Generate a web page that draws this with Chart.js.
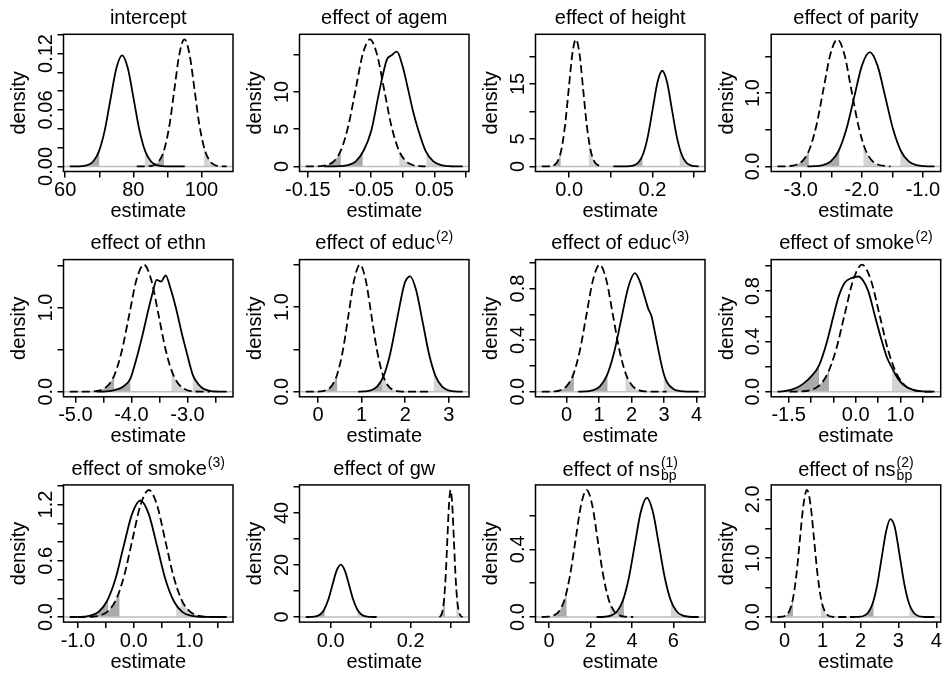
<!DOCTYPE html>
<html><head><meta charset="utf-8">
<script src="https://cdn.jsdelivr.net/npm/chart.js@4/dist/chart.umd.min.js"></script>
<style>
html,body{margin:0;padding:0;background:#fff;}
#wrap{position:relative;width:943px;height:676px;overflow:hidden;background:#fff;}
#wrap canvas{position:absolute;}
.ttl{position:absolute;width:300px;text-align:center;font-family:"Liberation Sans",Arial,Helvetica,sans-serif;font-size:20px;line-height:24px;white-space:nowrap;color:#000;z-index:2;}
.sup{font-size:14px;position:relative;top:-8px;margin-left:1px;}
.stack{display:inline-block;vertical-align:-4px;font-size:14px;line-height:13px;text-align:left;margin-left:1px;}
.stack span{display:block;}
</style></head>
<body><div id="wrap"></div>
<script>
// ---------- panel titles ----------
const panelTitles = ['intercept','effect of agem','effect of height','effect of parity','effect of ethn','effect of educ','effect of educ','effect of smoke','effect of smoke','effect of gw','effect of ns','effect of ns'];
const titleSup = ['','','','','','(2)','(3)','(2)','(3)','','(1)','(2)'];
const titleSub = ['','','','','','','','','','','bp','bp'];
const xAxisTitle = 'estimate';
const yAxisTitle = 'density';

// ---------- density curves [estimate, density] ----------
const interceptSolid = [[61.34,0],[63.1,0.00004],[64.8,0.0003],[66.5,0.0013],[68.2,0.0052],[69.9,0.016],[71.6,0.0383],[73.3,0.0716],[75.0,0.1041],[76.7,0.118],[78.4,0.1041],[80.1,0.0716],[81.8,0.0383],[83.5,0.016],[85.2,0.0052],[86.9,0.0013],[88.6,0.0003],[90.3,0.00004],[95.1,0]];
const interceptDashed = [[81.0,0],[83.2,0.00004],[84.7,0.0003],[86.15,0.0015],[87.6,0.0059],[89.1,0.0183],[90.6,0.0438],[92.05,0.0819],[93.5,0.1191],[95.0,0.135],[96.5,0.1191],[97.95,0.0819],[99.4,0.0438],[100.9,0.0183],[102.4,0.0059],[103.85,0.0015],[105.3,0.0003],[107.41,0]];
const agemSolid = [[-0.124,0],[-0.111,0.005],[-0.099,0.03],[-0.0865,0.17],[-0.0743,0.68],[-0.062,2.1],[-0.0498,4.8],[-0.0375,9.9],[-0.0253,14.3],[-0.018,14.9],[-0.0093,15.4],[-0.0008,13.6],[0.0093,10.0],[0.0165,7.3],[0.0241,5.0],[0.036,2.08],[0.0483,0.68],[0.0605,0.17],[0.0728,0.034],[0.085,0.005],[0.0947,0]];
const agemDashed = [[-0.1533,0],[-0.142,0.005],[-0.1308,0.037],[-0.1195,0.19],[-0.1083,0.75],[-0.097,2.31],[-0.0858,5.54],[-0.0745,10.34],[-0.0633,15.05],[-0.052,17.05],[-0.0408,15.05],[-0.0295,10.34],[-0.0183,5.54],[-0.007,2.31],[0.0043,0.75],[0.0155,0.19],[0.0268,0.037],[0.036,0]];
const heightSolid = [[0.106,0],[0.1325,0.005],[0.1439,0.04],[0.1553,0.19],[0.1667,0.76],[0.1781,2.35],[0.1895,5.65],[0.2009,10.55],[0.2123,15.36],[0.2237,17.4],[0.2351,15.36],[0.2465,10.55],[0.2579,5.65],[0.2693,2.35],[0.2807,0.76],[0.2921,0.19],[0.3035,0.04],[0.3113,0]];
const heightDashed = [[-0.066,0],[-0.0535,0.007],[-0.0448,0.05],[-0.0361,0.26],[-0.0274,1.01],[-0.0187,3.13],[-0.01,7.5],[-0.0013,14.0],[0.0074,20.4],[0.0161,23.1],[0.0248,20.4],[0.0335,14.0],[0.0422,7.5],[0.0509,3.13],[0.0596,1.01],[0.0683,0.26],[0.077,0.05],[0.08,0]];
const paritySolid = [[-2.89,0],[-2.763,0.0034],[-2.635,0.017],[-2.508,0.068],[-2.38,0.21],[-2.253,0.505],[-2.125,0.944],[-1.998,1.373],[-1.87,1.556],[-1.743,1.373],[-1.615,0.944],[-1.488,0.505],[-1.36,0.21],[-1.233,0.068],[-1.105,0.017],[-0.978,0.0034],[-0.812,0]];
const parityDashed = [[-3.38,0],[-3.312,0.0005],[-3.198,0.004],[-3.084,0.019],[-2.97,0.076],[-2.856,0.234],[-2.742,0.562],[-2.628,1.05],[-2.514,1.528],[-2.40,1.731],[-2.286,1.528],[-2.172,1.05],[-2.058,0.562],[-1.944,0.234],[-1.83,0.076],[-1.716,0.019],[-1.602,0.004],[-1.53,0]];
const ethnSolid = [[-4.62,0],[-4.45,0.004],[-4.30,0.02],[-4.15,0.06],[-4.02,0.154],[-3.95,0.30],[-3.868,0.5],[-3.80,0.68],[-3.70,0.97],[-3.62,1.18],[-3.55,1.33],[-3.47,1.31],[-3.39,1.384],[-3.30,1.22],[-3.208,1.0],[-3.10,0.69],[-3.027,0.5],[-2.95,0.3],[-2.906,0.2],[-2.85,0.13],[-2.75,0.05],[-2.60,0.01],[-2.45,0.002],[-2.3,0]];
const ethnDashed = [[-5.1,0],[-4.822,0.0005],[-4.692,0.0033],[-4.561,0.0168],[-4.431,0.066],[-4.30,0.204],[-4.17,0.49],[-4.039,0.916],[-3.909,1.333],[-3.778,1.51],[-3.648,1.333],[-3.517,0.916],[-3.387,0.49],[-3.256,0.204],[-3.126,0.066],[-2.995,0.0168],[-2.865,0.0033],[-2.734,0.0005],[-2.6,0]];
const educ2Solid = [[0.92,0],[1.057,0.003],[1.206,0.015],[1.355,0.06],[1.504,0.184],[1.653,0.443],[1.802,0.827],[1.951,1.21],[2.0,1.30],[2.115,1.363],[2.249,1.2],[2.398,0.827],[2.547,0.443],[2.696,0.184],[2.845,0.06],[2.994,0.015],[3.143,0.003],[3.318,0]];
const educ2Dashed = [[-0.279,0],[-0.082,0.0005],[0.049,0.0033],[0.179,0.0167],[0.31,0.066],[0.44,0.203],[0.571,0.487],[0.701,0.91],[0.832,1.324],[0.962,1.50],[1.093,1.324],[1.223,0.91],[1.354,0.487],[1.484,0.203],[1.615,0.066],[1.745,0.0167],[1.876,0.0033],[2.006,0.0005],[2.54,0]];
const educ3Solid = [[0.36,0],[0.58,0.002],[0.80,0.01],[1.02,0.04],[1.24,0.124],[1.46,0.3],[1.68,0.557],[1.90,0.81],[2.10,0.919],[2.25,0.86],[2.40,0.74],[2.52,0.64],[2.61,0.589],[2.75,0.42],[2.87,0.27],[2.99,0.14],[3.1,0.07],[3.3,0.02],[3.5,0.005],[3.8,0.001],[4.067,0]];
const educ3Dashed = [[-0.761,0],[-0.604,0.0003],[-0.401,0.0022],[-0.198,0.011],[0.005,0.043],[0.208,0.133],[0.411,0.32],[0.614,0.597],[0.817,0.869],[1.02,0.985],[1.223,0.869],[1.426,0.597],[1.629,0.32],[1.832,0.133],[2.035,0.043],[2.238,0.011],[2.441,0.0022],[2.644,0.0003],[3.08,0]];
const smoke2Solid = [[-1.75,0],[-1.6,0.005],[-1.45,0.015],[-1.3,0.035],[-1.15,0.07],[-1.0,0.12],[-0.82,0.21],[-0.65,0.39],[-0.5,0.6],[-0.38,0.76],[-0.25,0.865],[-0.12,0.9],[0.06,0.916],[0.17,0.88],[0.28,0.8],[0.43,0.6],[0.585,0.4],[0.70,0.27],[0.81,0.19],[0.95,0.1],[1.1,0.045],[1.3,0.012],[1.5,0.003],[1.758,0]];
const smoke2Dashed = [[-1.48,0],[-1.225,0.002],[-1.03,0.011],[-0.835,0.044],[-0.64,0.137],[-0.445,0.328],[-0.25,0.613],[-0.055,0.891],[0.14,1.01],[0.335,0.891],[0.53,0.613],[0.725,0.328],[0.92,0.137],[1.115,0.044],[1.31,0.011],[1.505,0.002],[1.7,0]];
const smoke3Solid = [[-1.145,0],[-1.0,0.001],[-0.9,0.004],[-0.78,0.014],[-0.63,0.055],[-0.48,0.168],[-0.33,0.40],[-0.18,0.754],[-0.03,1.097],[0.12,1.243],[0.27,1.097],[0.42,0.754],[0.57,0.40],[0.72,0.168],[0.87,0.055],[1.02,0.014],[1.17,0.003],[1.35,0.0005],[1.667,0]];
const smoke3Dashed = [[-1.0,0],[-0.91,0.0004],[-0.76,0.003],[-0.612,0.015],[-0.465,0.06],[-0.318,0.183],[-0.171,0.44],[-0.024,0.822],[0.123,1.196],[0.27,1.355],[0.417,1.196],[0.564,0.822],[0.711,0.44],[0.858,0.183],[1.005,0.06],[1.152,0.015],[1.3,0.003],[1.45,0]];
const gwSolid = [[-0.0623,0],[-0.0588,0.007],[-0.0483,0.045],[-0.0378,0.22],[-0.0273,0.88],[-0.0168,2.72],[-0.0063,6.53],[0.0042,12.19],[0.0147,17.74],[0.0252,20.1],[0.0357,17.74],[0.0462,12.19],[0.0567,6.53],[0.0672,2.72],[0.0777,0.88],[0.0882,0.22],[0.0987,0.045],[0.1092,0.007],[0.115,0]];
const gwDashed = [[0.2722,0],[0.2754,0.54],[0.2795,2.14],[0.2836,6.6],[0.2877,15.85],[0.2918,29.6],[0.2959,43.07],[0.3,48.8],[0.3041,43.07],[0.3082,29.6],[0.3123,15.85],[0.3164,6.6],[0.3205,2.14],[0.3246,0.54],[0.3287,0.11],[0.3303,0]];
const ns1Solid = [[2.29,0],[2.683,0.0015],[2.974,0.0078],[3.265,0.031],[3.556,0.095],[3.847,0.229],[4.138,0.427],[4.429,0.621],[4.72,0.704],[5.011,0.621],[5.302,0.427],[5.593,0.229],[5.884,0.095],[6.175,0.031],[6.466,0.0078],[6.757,0.0015],[7.227,0]];
const ns1Dashed = [[-0.357,0],[-0.066,0.0017],[0.202,0.0083],[0.47,0.033],[0.738,0.101],[1.006,0.244],[1.274,0.455],[1.542,0.662],[1.81,0.75],[2.078,0.662],[2.346,0.455],[2.614,0.244],[2.882,0.101],[3.15,0.033],[3.418,0.0083],[3.686,0.0017],[4.06,0]];
const ns2Solid = [[1.725,0],[1.836,0.0005],[1.957,0.0037],[2.077,0.018],[2.198,0.073],[2.318,0.225],[2.439,0.54],[2.559,1.01],[2.68,1.47],[2.787,1.666],[2.9,1.54],[2.97,1.3],[3.041,1.01],[3.162,0.54],[3.282,0.225],[3.403,0.073],[3.523,0.018],[3.644,0.0037],[3.764,0.0005],[3.949,0]];
const ns2Dashed = [[-0.188,0],[-0.162,0.0007],[-0.068,0.0048],[0.026,0.024],[0.12,0.095],[0.214,0.292],[0.308,0.701],[0.402,1.31],[0.496,1.906],[0.59,2.16],[0.684,1.906],[0.778,1.31],[0.872,0.701],[0.966,0.292],[1.06,0.095],[1.154,0.024],[1.248,0.0048],[1.342,0.0007],[1.68,0]];

const solidCurves = [interceptSolid, agemSolid, heightSolid, paritySolid, ethnSolid, educ2Solid, educ3Solid, smoke2Solid, smoke3Solid, gwSolid, ns1Solid, ns2Solid];
const dashedCurves = [interceptDashed, agemDashed, heightDashed, parityDashed, ethnDashed, educ2Dashed, educ3Dashed, smoke2Dashed, smoke3Dashed, gwDashed, ns1Dashed, ns2Dashed];

// 2.5% / 97.5% tail cut points
const solidCuts = [[70.0,83.4],[-0.0634,0.0374],[0.176,0.2654],[-2.369,-1.368],[-4.02,-2.906],[1.486,2.654],[1.26,2.99],[-0.82,0.81],[-0.457,0.762],[-0.015,0.067],[3.61,5.89],[2.344,3.29]];
const dashedCuts = [[89.0,100.7],[-0.098,-0.0055],[-0.0207,0.0473],[-2.868,-1.973],[-4.309,-3.285],[0.44,1.463],[0.225,1.815],[-0.6,0.905],[-0.255,0.84],[0.2855,0.3145],[0.84,2.94],[0.22,0.956]];

// ---------- ticks ----------
const xTickValues = [[60,70,80,90,100],[-0.15,-0.10,-0.05,0,0.05,0.10],[0,0.1,0.2,0.3],[-3,-2.5,-2,-1.5,-1],[-5,-4.5,-4,-3.5,-3,-2.5],[0,1,2,3],[0,1,2,3,4],[-1.5,-1,-0.5,0,0.5,1,1.5],[-1,-0.5,0,0.5,1,1.5],[0,0.1,0.2,0.3],[0,2,4,6],[0,1,2,3,4]];
const xTickLabels = [['60','','80','','100'],['-0.15','','-0.05','','0.05',''],['0.0','','0.2',''],['-3.0','','-2.0','','-1.0'],['-5.0','','-4.0','','-3.0',''],['0','1','2','3'],['0','1','2','3','4'],['-1.5','','','0.0','','1.0',''],['-1.0','','0.0','','1.0',''],['0.0','','0.2',''],['0','2','4','6'],['0','1','2','3','4']];
const yTickValues = [[0,0.02,0.04,0.06,0.08,0.10,0.12,0.14],[0,5,10,15],[0,5,10,15,20],[0,0.5,1,1.5],[0,0.5,1,1.5],[0,0.5,1,1.5],[0,0.2,0.4,0.6,0.8,1.0],[0,0.2,0.4,0.6,0.8,1.0],[0,0.2,0.4,0.6,0.8,1.0,1.2,1.4],[0,10,20,30,40,50],[0,0.2,0.4,0.6],[0,0.5,1,1.5,2]];
const yTickLabels = [['0.00','','','0.06','','','0.12',''],['0','5','10',''],['0','5','','15',''],['0.0','','1.0',''],['0.0','','1.0',''],['0.0','','1.0',''],['0.0','','0.4','','0.8',''],['0.0','','0.4','','0.8',''],['0.0','','','0.6','','','1.2',''],['0','','20','','40',''],['0.0','','0.4',''],['0.0','','1.0','','2.0']];

// ---------- layout (pixels) ----------
const BOX_LEFT = [63.5, 299.5, 535.5, 771.2];
const BOX_W = 169.5;
const BOX_TOP = [34.3, 259.6, 484.9];
const BOX_H = 137.2;
const CELL_W = 236, CELL_H = 225;
const DARK = '#aaaaaa', LIGHT = '#d4d4d4', ZERO = '#bebebe';
const FONT_FAMILY = '"Liberation Sans", Arial, Helvetica, sans-serif';

const mctx = document.createElement('canvas').getContext('2d');
mctx.font = '20px ' + FONT_FAMILY;

const decoPlugin = {
  id: 'rdeco',
  beforeDatasetsDraw(chart) {
    const {ctx, chartArea: a} = chart;
    const xs = chart.scales.x, ys = chart.scales.y;
    const y0 = ys.getPixelForValue(0);
    chart.data.datasets.forEach((ds, i) => {
      if (!ds.tailCuts) return;
      const meta = chart.getDatasetMeta(i);
      const line = meta.dataset, pts = meta.data;
      line.updateControlPoints(a, 'x');
      const lo = xs.getPixelForValue(ds.tailCuts[0]);
      const hi = xs.getPixelForValue(ds.tailCuts[1]);
      [[a.left, lo, DARK], [hi, a.right, LIGHT]].forEach(([l, r, c]) => {
        ctx.save();
        ctx.beginPath(); ctx.rect(l, a.top, r - l, a.bottom - a.top); ctx.clip();
        ctx.beginPath();
        line.path(ctx);
        ctx.lineTo(pts[pts.length - 1].x, y0);
        ctx.lineTo(pts[0].x, y0);
        ctx.closePath();
        ctx.fillStyle = c; ctx.fill();
        ctx.restore();
      });
    });
    ctx.save();
    ctx.strokeStyle = ZERO; ctx.lineWidth = 1.5;
    ctx.beginPath(); ctx.moveTo(a.left, y0); ctx.lineTo(a.right, y0); ctx.stroke();
    ctx.restore();
  },
  afterDraw(chart) {
    const {ctx, chartArea: a} = chart;
    ctx.save();
    ctx.strokeStyle = '#000'; ctx.lineWidth = 1.5;
    ctx.strokeRect(a.left, a.top, a.right - a.left, a.bottom - a.top);
    ctx.restore();
  }
};

const wrap = document.getElementById('wrap');

function extent(arrs, k) {
  let lo = Infinity, hi = -Infinity;
  arrs.forEach(a => a.forEach(p => { lo = Math.min(lo, p[k]); hi = Math.max(hi, p[k]); }));
  return [lo, hi];
}

for (let i = 0; i < 12; i++) {
  const col = i % 4, row = Math.floor(i / 4);
  const cx = Math.round(col * 235.75), cy = Math.round(row * 225.33);
  const boxL = BOX_LEFT[col] - cx, boxR = boxL + BOX_W;
  const boxT = BOX_TOP[row] - cy, boxB = boxT + BOX_H;

  // title (HTML text)
  const t = document.createElement('div');
  t.className = 'ttl';
  t.style.left = (BOX_LEFT[col] + BOX_W / 2 - 150) + 'px';
  t.style.top = (BOX_TOP[row] - 10.3 - 18.9) + 'px';
  t.appendChild(document.createTextNode(panelTitles[i]));
  if (titleSub[i]) {
    const st = document.createElement('span'); st.className = 'stack';
    const s1 = document.createElement('span'); s1.textContent = titleSup[i];
    const s2 = document.createElement('span'); s2.textContent = titleSub[i];
    st.appendChild(s1); st.appendChild(s2); t.appendChild(st);
  } else if (titleSup[i]) {
    const s = document.createElement('span'); s.className = 'sup'; s.textContent = titleSup[i];
    t.appendChild(s);
  }
  wrap.appendChild(t);

  const cv = document.createElement('canvas');
  cv.width = CELL_W; cv.height = CELL_H;
  cv.style.left = cx + 'px'; cv.style.top = cy + 'px';
  cv.style.width = CELL_W + 'px'; cv.style.height = CELL_H + 'px';
  wrap.appendChild(cv);

  const [xlo, xhi] = extent([solidCurves[i], dashedCurves[i]], 0);
  const [, yhi] = extent([solidCurves[i], dashedCurves[i]], 1);
  const xw = xhi - xlo;
  const widest = Math.max(...yTickLabels[i].map(s => mctx.measureText(s).width));
  const font = {family: FONT_FAMILY, size: 20};

  new Chart(cv, {
    type: 'line',
    data: {
      datasets: [
        {data: solidCurves[i].map(p => ({x: p[0], y: p[1]})), borderColor: '#000', borderWidth: 1.8,
         pointRadius: 0, cubicInterpolationMode: 'monotone', fill: false, tailCuts: solidCuts[i], order: 1},
        {data: dashedCurves[i].map(p => ({x: p[0], y: p[1]})), borderColor: '#000', borderWidth: 1.8,
         borderDash: [8, 4], pointRadius: 0, cubicInterpolationMode: 'monotone', fill: false, tailCuts: dashedCuts[i], order: 2}
      ]
    },
    options: {
      responsive: false, animation: false, devicePixelRatio: 1,
      layout: {padding: {left: 0, top: boxT, right: CELL_W - boxR, bottom: 0}},
      plugins: {legend: {display: false}, tooltip: {enabled: false}, title: {display: false}},
      scales: {
        x: {
          type: 'linear', position: 'bottom',
          min: xlo - 0.04 * xw, max: xhi + 0.04 * xw,
          afterBuildTicks: s => { s.ticks = xTickValues[i].map(v => ({value: v})); },
          afterFit: s => { s.height = CELL_H - boxB; },
          ticks: {autoSkip: false, minRotation: 0, maxRotation: 0, padding: 0.9, font, color: '#000',
                  callback: (v, idx) => xTickLabels[i][idx]},
          grid: {drawOnChartArea: false, drawTicks: true, tickLength: 6, color: '#000', lineWidth: 1.5},
          border: {display: false},
          title: {display: true, text: xAxisTitle, font, color: '#000',
                  padding: {top: 0, bottom: CELL_H - 12 - (boxB + 40)}}
        },
        y: {
          type: 'linear', position: 'left',
          min: -0.04 * yhi, max: 1.04 * yhi,
          afterBuildTicks: s => { s.ticks = yTickValues[i].map(v => ({value: v})); },
          afterFit: s => { s.width = boxL; },
          ticks: {autoSkip: false, minRotation: 90, maxRotation: 90, crossAlign: 'center',
                  padding: 11.4 - widest / 2, font, color: '#000',
                  callback: (v, idx) => yTickLabels[i][idx]},
          grid: {drawOnChartArea: false, drawTicks: true, tickLength: 6, color: '#000', lineWidth: 1.5},
          border: {display: false},
          title: {display: true, text: yAxisTitle, font, color: '#000',
                  padding: {top: boxL - 56.1, bottom: 0}}
        }
      }
    },
    plugins: [decoPlugin]
  });
}
</script>
</body></html>
